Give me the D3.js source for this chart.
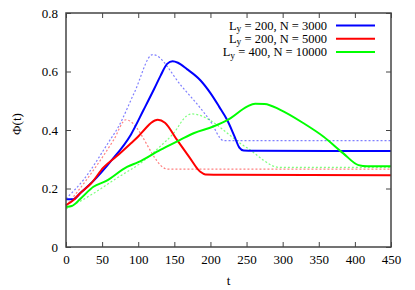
<!DOCTYPE html>
<html>
<head>
<meta charset="utf-8">
<script src="https://cdn.jsdelivr.net/npm/d3@7"></script>
<style>
  body { margin: 0; background: #fff; }
</style>
</head>
<body>
<svg width="415" height="290"></svg>
<script>
// series: [t, phi]
var blueSolid = [[0,0.163],[10,0.163],[20,0.185],[38,0.226],[61,0.29],[90,0.385],[107.5,0.469],[122,0.54],[131,0.586],[140,0.626],[147.6,0.635],[155,0.63],[167.5,0.608],[186,0.57],[200,0.526],[212,0.48],[223,0.435],[233,0.38],[240,0.34],[246,0.33],[260,0.329],[450,0.328]];
var redSolid = [[0,0.143],[10,0.16],[20,0.185],[34.6,0.217],[52,0.272],[70,0.31],[90,0.355],[100,0.378],[110,0.405],[118,0.425],[127,0.435],[137,0.425],[153.7,0.366],[170,0.31],[186,0.257],[193,0.248],[220,0.247],[450,0.245]];
var greenSolid = [[0,0.137],[8,0.14],[20,0.165],[38,0.206],[55,0.225],[84.5,0.274],[100,0.29],[130.6,0.332],[158,0.366],[176.7,0.389],[204,0.412],[227.5,0.44],[250.6,0.48],[262,0.49],[275,0.489],[296.7,0.469],[329,0.423],[356.7,0.377],[384,0.32],[405,0.28],[417,0.276],[450,0.276]];

var blueDotted = [[0,0.165],[24,0.229],[61,0.366],[71.5,0.406],[95,0.53],[120,0.658],[160,0.55],[200,0.43],[218,0.364],[450,0.364]];
var redDotted = [[0,0.14],[30,0.235],[66,0.366],[83,0.435],[141,0.266],[450,0.266]];
var greenDotted = [[0,0.13],[36,0.18],[70,0.235],[105,0.29],[130,0.343],[149,0.389],[167,0.448],[174,0.455],[250,0.34],[296,0.272],[450,0.272]];

var legendLabels = [["L","y"," = 200, N = 3000"],["L","y"," = 200, N = 5000"],["L","y"," = 400, N = 10000"]];
var colors = ["#0000ff","#ff0000","#00ff00"];
var xTicks = [0,50,100,150,200,250,300,350,400,450];
var yTicks = [0,0.2,0.4,0.6,0.8];

const FONT = "'Liberation Serif', 'Times New Roman', Times, serif";
const svg = d3.select("svg");
const margin = {left: 66, right: 24, top: 13, bottom: 43};
const width = +svg.attr("width"), height = +svg.attr("height");

var x = d3.scaleLinear().domain([0,450]).range([margin.left, width - margin.right]);
var y = d3.scaleLinear().domain([0,0.8]).range([height - margin.bottom, margin.top]);

var line = d3.line().x(d => x(d[0])).y(d => y(d[1])).curve(d3.curveMonotoneX);

// dotted theory curves
[blueDotted, redDotted, greenDotted].forEach(function(s, i) {
  svg.append("path").datum(s)
    .attr("d", line)
    .attr("fill", "none")
    .attr("stroke", colors[i])
    .attr("stroke-opacity", 0.5)
    .attr("stroke-width", 1.2)
    .attr("stroke-dasharray", "2,2");
});

[blueSolid, redSolid, greenSolid].forEach(function(s, i) {
  svg.append("path").datum(s)
    .attr("d", line)
    .attr("fill", "none")
    .attr("stroke", colors[i])
    .attr("stroke-width", 2);
});

// axes, ticks inward and mirrored
var gx = svg.append("g").attr("transform", `translate(0,${y(0)})`)
  .call(d3.axisBottom(x).tickValues(xTicks).tickSize(-5).tickPadding(8).tickFormat(d3.format("d")));
var gxTop = svg.append("g").attr("transform", `translate(0,${y(0.8)})`)
  .call(d3.axisTop(x).tickValues(xTicks).tickSize(-5).tickFormat(""));
var gy = svg.append("g").attr("transform", `translate(${x(0)},0)`)
  .call(d3.axisLeft(y).tickValues(yTicks).tickSize(-5).tickPadding(8).tickFormat(d => d === 0 ? "0" : d3.format(".1f")(d)));
var gyR = svg.append("g").attr("transform", `translate(${x(450)},0)`)
  .call(d3.axisRight(y).tickValues(yTicks).tickSize(-5).tickFormat(""));

[gx, gxTop, gy, gyR].forEach(function(g) {
  g.attr("font-family", FONT).attr("font-size", 13);
  g.select(".domain").remove();
  g.selectAll(".tick line").attr("stroke", "#444").attr("stroke-width", 1);
});

svg.append("rect")
  .attr("x", x(0)).attr("y", y(0.8))
  .attr("width", x(450) - x(0)).attr("height", y(0) - y(0.8))
  .attr("fill", "none").attr("stroke", "#444").attr("stroke-width", 1.5);

svg.append("text").attr("x", (x(0) + x(450)) / 2).attr("y", 285)
  .attr("font-family", FONT).attr("text-anchor", "middle").attr("font-size", 13).text("t");
svg.append("text").attr("transform", `translate(21,124) rotate(-90)`)
  .attr("font-family", FONT).attr("text-anchor", "middle").attr("font-size", 13).text("Φ(t)");

// legend
var leg = svg.append("g").attr("font-family", FONT);
legendLabels.forEach(function(lab, i) {
  var ly = 25.5 + i * 13.3;
  var t = leg.append("text").attr("x", 327).attr("y", ly + 4).attr("text-anchor", "end").attr("font-size", 12.5);
  t.append("tspan").text(lab[0]);
  t.append("tspan").attr("dy", 2.5).attr("font-size", 9.5).text(lab[1]);
  t.append("tspan").attr("dy", -2.5).text(lab[2]);
  leg.append("line").attr("x1", 336).attr("x2", 375).attr("y1", ly).attr("y2", ly)
    .attr("stroke", colors[i]).attr("stroke-width", 2);
});
</script>
</body>
</html>
